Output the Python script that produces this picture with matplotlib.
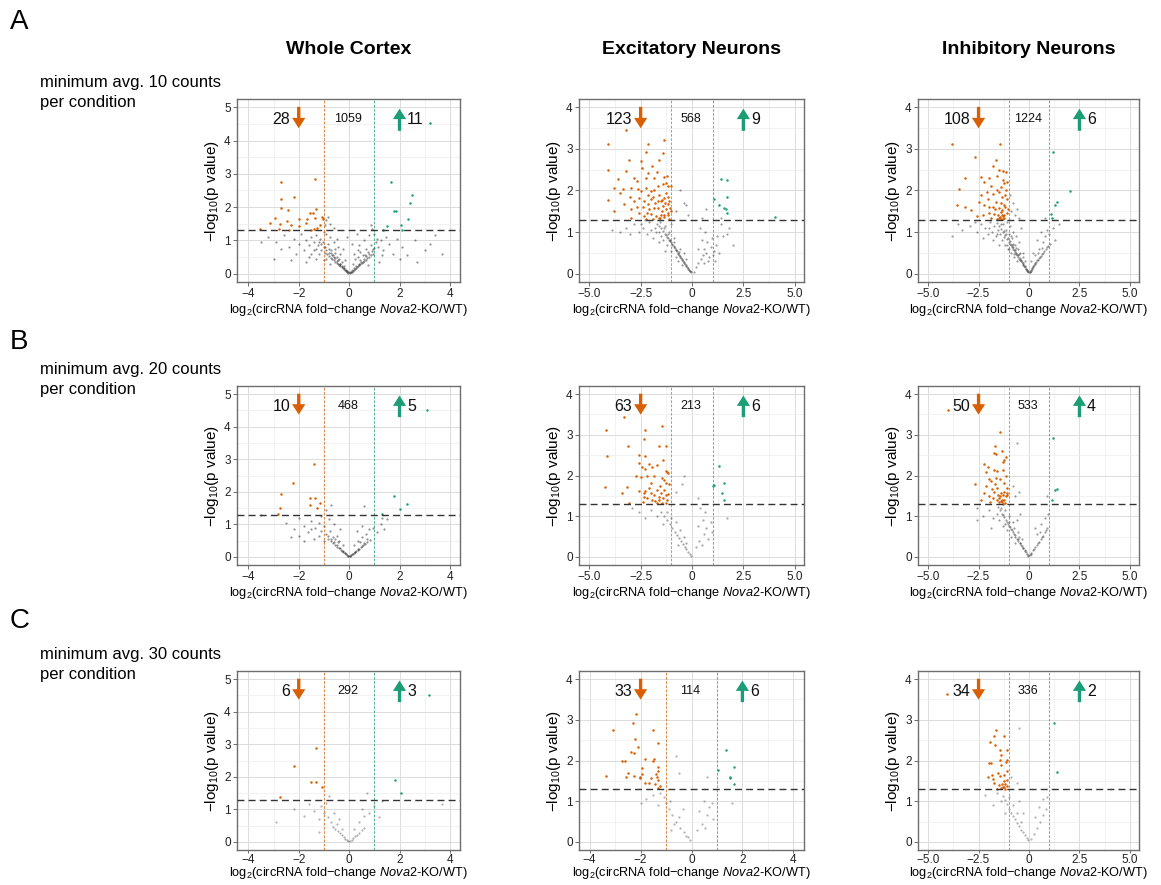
import matplotlib
matplotlib.use("Agg")
import matplotlib.pyplot as plt

plt.rcParams['font.family'] = ['Liberation Sans', 'DejaVu Sans']
plt.rcParams['mathtext.fontset'] = 'custom'
plt.rcParams['mathtext.rm'] = 'Liberation Sans'
plt.rcParams['mathtext.it'] = 'Liberation Sans:italic'

ORANGE = '#D95F02'
GREEN = '#1B9E77'

col_titles = ['Whole Cortex', 'Excitatory Neurons', 'Inhibitory Neurons']
row_letters = ['A', 'B', 'C']
row_texts = ['minimum avg. 10 counts', 'minimum avg. 20 counts', 'minimum avg. 30 counts']

# counts: (down, unchanged, up) per panel, row-major
counts = [(28, 1059, 11), (123, 568, 9), (108, 1224, 6),
          (10, 468, 5), (63, 213, 6), (50, 533, 4),
          (6, 292, 3), (33, 114, 6), (34, 336, 2)]

# ---------------- Row A: min 10 counts ----------------
wc10_down = [(-2.70,2.76),(-1.34,2.85),(-2.71,2.24),(-2.20,2.29),(-2.72,1.98),(-2.43,1.91),(-1.30,1.93),
             (-1.57,1.81),(-1.43,1.81),(-2.96,1.68),(-1.99,1.63),(-1.67,1.65),(-1.37,1.67),(-1.09,1.69),
             (-1.04,1.65),(-3.16,1.52),(-2.76,1.50),(-2.47,1.58),(-3.53,1.34),(-2.80,1.34),(-2.40,1.32),
             (-1.53,1.30),(-1.41,1.34),(-1.28,1.38),(-1.70,1.52),(-2.30,1.47),(-1.97,1.44),(-1.17,1.47)]
wc10_up = [(1.67,2.76),(2.51,2.36),(2.42,2.11),(1.78,1.89),(1.85,1.89),(2.35,1.65),(1.49,1.44),
           (2.06,1.47),(1.33,1.32),(2.11,1.32),(3.19,4.52)]
wc10_ns = [(-0.03,0.02),(0.03,0.02),(-0.07,0.05),(0.07,0.04),(-0.1,0.07),(0.1,0.06),(-0.14,0.09),(0.14,0.09),
           (-0.18,0.12),(0.18,0.11),(-0.22,0.14),(0.22,0.14),(-0.26,0.17),(0.26,0.16),(-0.3,0.2),(0.3,0.19),
           (-0.35,0.23),(0.35,0.22),(-0.4,0.26),(0.4,0.25),(-0.45,0.3),(0.45,0.28),(-0.5,0.33),(0.5,0.32),
           (-0.55,0.36),(0.55,0.35),(-0.6,0.4),(0.6,0.38),(-0.66,0.44),(0.66,0.42),(-0.72,0.48),(0.72,0.46),
           (-0.8,0.53),(0.8,0.51),(-0.88,0.58),(0.88,0.56),(-0.95,0.63),(0.95,0.6),
           (-0.2,0.22),(-0.3,0.35),(-0.4,0.45),(-0.5,0.5),(-0.55,0.62),(-0.65,0.55),(-0.7,0.7),(-0.8,0.75),
           (-0.85,0.9),(-0.95,0.8),(-1.05,0.95),(-1.1,0.7),(-1.15,1.05),(-1.25,0.85),(-1.3,1.15),(-1.4,0.95),
           (-1.5,1.1),(-1.6,0.85),(-1.7,1.0),(-1.8,0.7),(-1.9,1.2),(-2.0,0.9),(-2.2,1.05),(-2.4,0.8),
           (-2.6,1.15),(-2.9,0.95),(-3.2,1.1),(-3.5,0.95),(-0.15,0.4),(-0.35,0.6),(-0.45,0.8),(-0.6,0.95),
           (-0.75,1.1),(-0.9,1.2),(-0.25,0.75),(-0.5,1.05),(-1.0,1.25),(-1.2,0.6),(-1.4,0.7),(-1.6,0.5),
           (-2.1,0.6),(0.15,0.3),(0.25,0.45),(0.35,0.5),(0.45,0.65),(0.55,0.55),(0.65,0.75),(0.75,0.65),
           (0.85,0.85),(0.95,0.75),(1.05,0.95),(1.15,0.8),(1.25,1.0),(1.35,0.7),(1.45,1.1),(1.6,0.9),
           (1.75,0.6),(1.9,1.05),(2.1,0.8),(2.3,0.55),(2.6,1.0),(3.0,0.7),(3.4,1.15),(3.7,0.6),(0.2,0.6),
           (0.4,0.85),(0.6,1.0),(0.8,1.15),(1.0,1.2),(0.1,0.9),(-0.1,1.1),(0.3,1.2),(1.2,0.35),(-1.0,0.4),
           (-1.3,0.45),(-0.75,0.3),(0.75,0.25),(-0.95,1.45),(-0.85,1.7),(-0.9,1.6),(-0.6,1.38),(0.85,1.45),
           (0.9,1.35),(-0.75,1.5)]
wc10_ns_core = [(-0.05,0.05),(0.05,0.05),(-0.12,0.1),(0.12,0.1),(-0.2,0.16),(0.2,0.16),(-0.28,0.24),
                (0.28,0.22),(-0.38,0.3),(0.38,0.3),(-0.48,0.38),(0.48,0.36),(-0.58,0.46),(0.58,0.44),
                (-0.68,0.55),(0.68,0.52),(-0.78,0.62),(0.78,0.6),(-0.9,0.7),(0.9,0.68),(-1.0,0.8),(1.0,0.78),
                (-1.1,0.88),(-1.2,0.95),(-0.35,0.3),(-0.45,0.4),(0.42,0.4),(-0.62,0.5),(-0.7,0.62),(0.62,0.55),
                (-0.9,0.45),(-1.3,0.75),(-1.5,0.6),(1.3,0.55),(1.1,1.05),(-0.55,0.75),(0.35,0.7),(-1.7,0.35),
                (-2.3,0.4),(2.0,0.45),(-2.7,0.75),(2.7,0.35),(-3.0,0.45),(3.2,0.9)]

ex10_down = [(-3.21,3.45),(-4.11,3.13),(-2.15,3.13),(-1.34,3.22),(-2.24,2.92),(-3.05,2.73),(-1.62,2.73),
             (-4.07,2.50),(-2.45,2.54),(-3.21,2.47),(-2.15,2.43),(-3.59,2.27),(-2.67,2.23),(-2.24,2.31),
             (-1.86,2.30),(-1.37,2.33),(-3.37,2.03),(-2.97,2.07),(-2.64,2.03),(-2.48,1.99),(-2.24,2.07),
             (-1.99,1.99),(-1.67,2.11),(-1.42,2.15),(-1.26,2.17),(-1.18,2.12),(-1.02,2.11),(-4.07,1.77),
             (-3.78,1.51),(-3.33,1.67),(-2.97,1.55),(-2.80,1.75),(-2.56,1.83),(-2.32,1.75),(-2.15,1.67),
             (-2.07,1.55),(-1.91,1.85),(-1.80,1.69),(-1.67,1.59),(-1.50,1.75),(-1.42,1.63),(-1.34,1.83),
             (-1.26,1.55),(-1.18,1.67),(-1.15,1.47),(-1.10,1.75),(-1.05,1.59),(-2.97,1.35),(-2.32,1.39),
             (-1.99,1.43),(-1.75,1.39),(-1.50,1.41),(-1.34,1.37),(-1.18,1.41),(-2.24,1.31),(-1.91,1.31),
             (-1.59,1.33),(-2.6,1.45),(-2.4,1.6),(-2.0,1.8),(-1.85,2.0),(-1.6,1.9),(-1.45,1.5),(-1.25,1.95),
             (-1.1,1.32),(-1.55,1.35),(-2.15,1.9),(-2.8,2.3),(-3.0,1.85),(-3.5,1.95),(-1.7,2.45),(-1.2,2.35),
             (-2.5,2.7),(-1.4,2.9),(-3.8,2.05),(-1.95,2.6),(-1.3,1.7),(-1.0,1.5),(-1.65,1.75),(-2.7,1.6),
             (-2.2,1.45),(-1.85,1.58),(-1.45,1.78),(-1.15,1.85),(-1.35,1.42)]
ex10_up = [(1.39,2.27),(1.70,2.26),(1.69,1.85),(1.07,1.79),(1.32,1.65),(1.56,1.59),(1.64,1.55),
           (1.70,1.45),(4.02,1.37)]
ex10_ns = [(-0.05,0.03),(-0.1,0.06),(-0.15,0.1),(-0.2,0.14),(-0.25,0.17),(-0.3,0.2),(-0.35,0.24),(-0.4,0.28),
           (-0.45,0.31),(-0.5,0.35),(-0.55,0.38),(-0.6,0.42),(-0.65,0.46),(-0.7,0.5),(-0.75,0.55),(-0.8,0.58),
           (-0.85,0.62),(-0.9,0.66),(-0.95,0.7),(-1.0,0.75),(-1.05,0.78),(-1.1,0.82),(-1.2,0.88),(-1.3,0.95),
           (-1.4,1.02),(-1.5,1.1),(-1.6,1.15),(-1.7,1.2),(-0.3,0.35),(-0.5,0.2),(-0.6,0.6),(-0.8,0.4),
           (-0.9,0.85),(-1.0,0.55),(-1.1,1.0),(-1.2,0.7),(-1.3,1.15),(-1.4,0.8),(-1.5,0.9),(-1.6,1.0),
           (-1.8,1.1),(-1.9,0.85),(-2.0,1.05),(-2.1,1.25),(-2.2,0.95),(-2.4,1.1),(-2.6,1.0),(-2.8,1.2),
           (-3.0,0.95),(-3.2,1.1),(-3.5,1.0),(-3.9,1.05),(-1.3,0.55),(-0.7,0.3),(-0.4,0.5),(-2.3,1.3),
           (-1.0,1.2),(0.1,0.05),(0.2,0.15),(0.3,0.25),(0.45,0.35),(0.55,0.45),(0.6,0.6),(0.7,0.5),
           (0.75,0.75),(0.85,0.4),(0.9,0.65),(0.95,0.85),(1.05,0.55),(1.1,0.3),(1.15,0.7),(1.2,0.9),
           (1.3,0.5),(0.5,0.8),(0.3,0.6),(0.65,1.0),(0.4,1.1),(1.4,1.2),(1.5,0.9),(1.7,0.95),(2.0,0.7),
           (1.8,1.1),(-0.6,2.0),(-0.4,1.7),(-0.3,1.65),(-0.8,1.5),(-0.2,1.4),(0.5,1.35),(0.7,1.55),(1.4,1.35)]
ex10_ns_core = [(-0.08,0.06),(-0.18,0.12),(-0.28,0.18),(-0.38,0.26),(-0.48,0.33),(-0.58,0.4),(-0.68,0.48),
                (-0.78,0.57),(-0.88,0.64),(-0.98,0.72),(-1.08,0.8),(-1.18,0.86),(-1.28,0.92),(-0.62,0.53),
                (-0.9,0.76),(-1.15,0.95),(-1.35,1.1),(-1.55,1.25),(-1.75,1.0),(-2.5,1.2),(-1.6,0.75),
                (0.8,0.3),(1.0,0.45),(0.6,0.25)]

in10_down = [(-3.80,3.11),(-1.44,3.11),(-2.69,2.81),(-1.64,2.73),(-1.80,2.59),(-1.15,2.45),(-1.28,2.46),
             (-2.36,2.33),(-2.23,2.21),(-3.15,2.30),(-1.59,2.35),(-1.31,2.25),(-1.89,2.11),(-1.39,2.08),
             (-1.23,2.17),(-2.10,1.96),(-1.77,1.92),(-1.48,1.96),(-1.15,2.00),(-3.48,2.03),(-3.56,1.66),
             (-3.15,1.60),(-2.87,1.52),(-2.46,1.72),(-2.21,1.64),(-2.05,1.80),(-1.80,1.60),(-1.64,1.72),
             (-1.51,1.58),(-1.34,1.52),(-1.23,1.64),(-1.11,1.80),(-1.97,1.46),(-1.72,1.44),(-1.39,1.48),
             (-1.31,1.38),(-1.48,1.33),(-1.56,1.40),(-1.39,1.32),(-1.31,1.31),(-1.23,1.33),(-1.45,1.36),
             (-1.35,1.42),(-1.25,1.40),(-1.6,1.32),(-1.9,1.35),(-2.3,1.42),(-2.6,1.38),(-1.1,1.45),
             (-1.05,1.55),(-1.7,1.55),(-2.0,1.6),(-1.4,1.7),(-1.2,1.9),(-1.6,2.0),(-2.4,1.9),(-1.1,2.2),
             (-1.5,2.5),(-2.0,2.3),(-1.35,1.85),(-1.2,1.6)]
in10_up = [(1.2,2.93),(2.05,1.98),(1.39,1.72),(1.31,1.64),(1.11,1.44),(1.15,1.33)]
in10_ns = [(-0.04,0.03),(-0.08,0.06),(-0.12,0.09),(-0.16,0.12),(-0.2,0.15),(-0.24,0.18),(-0.28,0.21),
           (-0.32,0.24),(-0.36,0.27),(-0.4,0.3),(-0.45,0.33),(-0.5,0.36),(-0.55,0.4),(-0.6,0.44),(-0.65,0.48),
           (-0.7,0.52),(-0.75,0.56),(-0.8,0.6),(-0.85,0.64),(-0.9,0.68),(-0.95,0.72),(-1.0,0.76),(-1.1,0.84),
           (-1.2,0.92),(-1.3,1.0),(-1.4,1.08),(-1.5,1.15),(-1.6,1.22),(-0.3,0.4),(-0.45,0.5),(-0.55,0.6),
           (-0.6,0.3),(-0.7,0.7),(-0.75,0.4),(-0.85,0.85),(-0.9,0.5),(-1.0,0.95),(-1.05,0.6),(-1.15,1.05),
           (-1.2,0.7),(-1.3,1.2),(-1.35,0.8),(-1.45,0.95),(-1.55,1.05),(-1.65,0.9),(-1.75,1.15),(-1.85,1.0),
           (-1.95,1.25),(-2.05,0.95),(-2.2,1.1),(-2.4,1.2),(-2.6,1.0),(-2.9,1.15),(-3.3,1.05),(-1.1,1.25),
           (-0.8,1.0),(-0.65,0.9),(-0.5,0.75),(-0.4,1.1),(-0.95,1.15),(-1.5,0.7),(-1.8,0.8),(-2.3,0.85),
           (0.04,0.03),(0.08,0.06),(0.12,0.1),(0.16,0.13),(0.2,0.16),(0.25,0.2),(0.3,0.24),(0.36,0.28),
           (0.42,0.32),(0.5,0.37),(0.58,0.42),(0.66,0.48),(0.75,0.54),(0.85,0.6),(0.95,0.66),(1.05,0.72),
           (0.3,0.45),(0.5,0.6),(0.7,0.75),(0.8,0.9),(0.6,1.0),(0.9,1.05),(1.0,0.95),(1.2,1.1),(0.4,0.8),
           (0.2,0.5),(0.1,0.3),(1.3,0.8),(1.5,1.2),(-0.9,1.5),(-0.8,1.7),(-0.95,1.9),(-0.7,1.4),(-0.5,1.35),
           (-0.6,1.55),(0.8,1.35),(-3.5,1.2),(-3.8,0.9)]
in10_ns_core = [(-0.06,0.06),(-0.14,0.12),(-0.22,0.19),(-0.3,0.26),(-0.38,0.32),(-0.46,0.38),(-0.54,0.44),
                (-0.62,0.5),(-0.7,0.58),(-0.78,0.64),(-0.86,0.7),(-0.94,0.78),(-1.02,0.85),(-1.12,0.95),
                (-1.22,1.02),(-0.5,0.48),(-0.65,0.62),(-0.8,0.72),(-0.9,0.9),(-1.1,0.7),(-1.25,0.88),
                (-1.4,1.2),(-0.3,0.5),(0.06,0.05),(0.14,0.11),(0.22,0.18),(0.32,0.26),(0.45,0.34),(0.55,0.4),
                (0.7,0.5),(0.9,0.63),(0.45,0.5),(0.65,0.62),(-0.2,0.3),(-1.6,0.95),(-2.0,1.1),(-2.7,1.25),
                (-1.0,0.6),(-0.75,0.48)]

# ---------------- Row B: min 20 counts ----------------
wc20_down = [(-1.39,2.84),(-2.23,2.28),(-2.70,1.92),(-1.56,1.82),(-1.35,1.82),(-2.74,1.51),(-1.56,1.58),
             (-1.17,1.65),(-1.26,1.50),(-2.83,1.33)]
wc20_up = [(1.79,1.87),(2.29,1.63),(2.0,1.46),(1.30,1.33),(3.11,4.51)]
wc20_ns = [(-0.03,0.02),(0.03,0.02),(-0.08,0.05),(0.08,0.05),(-0.13,0.09),(0.13,0.08),(-0.18,0.12),(0.18,0.11),
           (-0.23,0.15),(0.23,0.14),(-0.28,0.19),(0.28,0.17),(-0.34,0.22),(0.34,0.21),(-0.4,0.27),(0.4,0.25),
           (-0.47,0.31),(0.47,0.3),(-0.55,0.37),(0.55,0.35),(-0.63,0.42),(0.63,0.4),(-0.72,0.48),(0.72,0.46),
           (-0.82,0.55),(0.82,0.52),(-0.25,0.35),(-0.4,0.5),(-0.5,0.65),(-0.65,0.6),(-0.75,0.8),(-0.9,0.7),
           (-1.0,0.95),(-1.1,0.8),(-1.2,1.05),(-1.35,0.9),(-1.5,1.1),(-1.65,0.75),(-1.8,0.95),(-2.0,0.65),
           (-2.2,0.85),(-2.3,0.6),(-1.4,0.55),(-1.0,0.5),(-0.6,1.0),(-0.8,1.15),(-0.35,0.85),(-1.1,1.25),
           (-2.0,1.2),(0.2,0.35),(0.35,0.5),(0.5,0.62),(0.65,0.7),(0.8,0.85),(0.95,0.9),(1.1,0.75),
           (1.25,1.0),(1.4,0.85),(0.5,0.95),(0.3,0.8),(1.3,1.2),(1.5,1.15),(-0.9,1.45),(-0.7,1.6),(0.6,1.55),
           (-3.5,1.3),(-2.5,1.05),(-1.8,0.5)]
wc20_ns_core = [(-0.05,0.04),(0.05,0.04),(-0.15,0.11),(0.15,0.1),(-0.25,0.18),(0.25,0.16),(-0.37,0.26),
                (0.37,0.24),(-0.5,0.36),(0.5,0.34),(-0.6,0.45),(0.6,0.42),(-0.7,0.55),(-0.85,0.65),(0.7,0.55),
                (-0.45,0.45),(-0.55,0.55),(0.45,0.45),(-1.2,0.65),(-1.5,0.85)]

ex20_down = [(-3.33,3.44),(-4.18,3.11),(-2.27,3.11),(-1.45,3.21),(-2.35,2.90),(-3.12,2.72),(-1.62,2.72),
             (-1.29,2.72),(-4.15,2.49),(-2.60,2.51),(-2.27,2.49),(-1.41,2.39),(-2.6,2.3),(-2.43,2.22),
             (-2.27,2.15),(-2.1,2.29),(-1.95,2.22),(-1.7,2.27),(-1.29,2.1),(-1.2,2.08),(-1.15,2.06),
             (-2.75,1.98),(-2.5,1.96),(-2.2,1.98),(-1.85,1.98),(-1.45,1.94),(-1.37,1.88),(-1.29,1.81),
             (-4.23,1.72),(-3.41,1.57),(-3.14,1.72),(-3.09,1.33),(-2.35,1.57),(-2.27,1.61),(-2.1,1.69),
             (-2.0,1.81),(-2.0,1.57),(-1.86,1.53),(-1.7,1.65),(-1.62,1.48),(-1.54,1.73),(-1.5,1.57),
             (-1.41,1.45),(-1.37,1.65),(-1.29,1.53),(-1.2,1.39),(-1.62,1.39),(-1.78,1.37),(-1.94,1.40),
             (-2.2,1.44),(-2.33,1.47),(-1.45,1.32),(-1.29,1.32),(-1.7,1.32),(-2.4,1.35),(-2.6,1.62),
             (-1.15,1.55),(-1.1,1.8)]
ex20_up = [(1.29,2.24),(1.0,1.73),(1.54,1.82),(1.44,1.57),(1.54,1.41),(1.05,1.76)]
ex20_ns = [(-0.05,0.03),(-0.12,0.07),(-0.2,0.13),(-0.28,0.19),(-0.36,0.25),(-0.45,0.31),(-0.55,0.38),
           (-0.65,0.46),(-0.75,0.54),(-0.85,0.62),(-0.95,0.7),(-1.05,0.8),(-1.2,0.9),(-1.35,1.0),(-1.5,1.1),
           (-0.4,0.5),(-0.6,0.65),(-0.8,0.85),(-1.0,0.95),(-1.2,1.1),(-1.4,0.8),(-1.7,1.0),(-2.0,1.15),
           (-2.3,0.95),(-2.6,1.1),(-2.9,1.2),(-0.3,0.35),(-0.7,0.3),(0.2,0.25),(0.35,0.4),(0.5,0.3),
           (0.6,0.55),(0.7,0.7),(0.8,0.45),(0.9,0.85),(0.95,0.6),(0.55,0.9),(0.3,0.75),(1.7,0.95),(0.4,1.2),
           (-0.5,1.8),(-0.4,2.0),(0.3,1.45),(-0.8,1.6),(0.65,1.1)]

in20_down = [(-4.02,3.62),(-1.44,3.08),(-1.67,2.72),(-1.75,2.55),(-1.64,2.54),(-1.15,2.45),(-1.23,2.39),
             (-1.28,2.32),(-2.21,2.29),(-2.02,2.22),(-2.13,2.08),(-1.75,2.13),(-1.61,2.10),(-1.28,2.14),
             (-1.64,1.94),(-1.44,1.91),(-1.97,1.91),(-1.89,1.86),(-2.66,1.80),(-2.21,1.57),(-1.72,1.59),
             (-1.56,1.53),(-1.39,1.57),(-1.31,1.53),(-1.15,1.49),(-1.48,1.45),(-1.34,1.41),(-1.23,1.39),
             (-1.11,1.51),(-1.77,1.45),(-1.61,1.39),(-1.34,1.34),(-1.31,1.31),(-2.13,1.73),(-1.85,1.67),
             (-1.23,1.82),(-1.07,1.57),(-1.5,1.35),(-1.4,1.37),(-1.2,1.33),(-1.45,1.5),(-1.1,1.7),
             (-1.6,1.7),(-2.0,1.5),(-2.4,1.4),(-1.95,1.35),(-1.15,2.0),(-1.35,2.6),(-1.25,1.6),(-1.7,1.8)]
in20_up = [(1.18,2.92),(1.31,1.64),(1.39,1.67),(1.15,1.39)]
in20_ns = [(-0.04,0.03),(-0.1,0.07),(-0.16,0.12),(-0.22,0.16),(-0.28,0.21),(-0.34,0.26),(-0.4,0.3),
           (-0.47,0.35),(-0.54,0.4),(-0.6,0.45),(-0.67,0.5),(-0.74,0.56),(-0.8,0.62),(-0.88,0.68),(-0.95,0.74),
           (-1.05,0.82),(-1.15,0.9),(-1.25,0.98),(-1.35,1.06),(-1.45,1.14),(-1.55,1.22),(-0.35,0.45),
           (-0.55,0.6),(-0.7,0.35),(-0.8,0.85),(-0.9,0.5),(-1.0,1.0),(-1.1,0.65),(-1.2,1.15),(-1.3,0.75),
           (-1.5,0.9),(-1.6,1.05),(-1.8,0.95),(-2.0,1.15),(-2.3,1.0),(-2.6,1.2),(-0.6,0.9),(-0.45,1.05),
           (-1.9,0.7),(-2.6,0.9),(0.05,0.04),(0.12,0.1),(0.2,0.16),(0.3,0.24),(0.4,0.3),(0.5,0.37),
           (0.6,0.44),(0.7,0.52),(0.8,0.6),(0.9,0.7),(0.4,0.55),(0.6,0.8),(0.8,0.95),(0.95,1.05),(0.3,0.7),
           (-0.8,1.75),(-0.7,1.5),(-0.5,1.6),(-0.6,2.8),(0.9,1.5)]
in20_ns_core = [(-0.07,0.05),(-0.19,0.14),(-0.31,0.23),(-0.43,0.33),(-0.57,0.43),(-0.7,0.53),(-0.84,0.65),
                (-0.98,0.77),(-1.1,0.86),(-1.3,1.02),(-0.5,0.5),(-0.75,0.7),(-1.0,0.85),(-1.2,0.8),
                (0.08,0.07),(0.25,0.2),(0.45,0.33),(0.65,0.48),(0.85,0.65),(0.55,0.6),(-1.4,1.2)]

# ---------------- Row C: min 30 counts ----------------
wc30_down = [(-1.33,2.87),(-2.17,2.33),(-1.52,1.85),(-1.33,1.83),(-1.07,1.70),(-2.76,1.37)]
wc30_up = [(1.83,1.9),(2.05,1.5),(3.16,4.52)]
wc30_ns = [(-0.03,0.02),(0.03,0.03),(-0.1,0.06),(0.1,0.07),(-0.16,0.1),(0.16,0.12),(-0.22,0.15),(0.22,0.17),
           (-0.3,0.2),(0.3,0.22),(-0.38,0.26),(0.4,0.28),(-0.45,0.32),(-0.55,0.38),(0.5,0.35),(-0.65,0.45),
           (0.6,0.42),(-0.3,0.4),(-0.5,0.55),(-0.7,0.6),(-0.85,0.75),(-1.0,0.9),(-1.1,1.1),(-1.2,0.7),
           (-1.4,0.95),(-1.6,1.15),(-0.6,0.9),(-0.9,1.2),(-0.4,0.7),(0.2,0.4),(0.4,0.6),(0.6,0.8),(0.8,0.9),
           (1.0,1.1),(1.2,0.75),(1.3,1.25),(0.5,1.0),(-1.8,0.8),(-2.2,1.0),(-2.9,0.6),(3.7,1.15),(0.7,1.5),
           (-0.8,1.4),(-1.2,0.3)]

ex30_down = [(-2.18,3.15),(-2.29,2.92),(-3.08,2.74),(-1.53,2.74),(-2.21,2.52),(-1.32,2.42),(-2.09,2.32),
             (-2.36,2.2),(-2.26,2.18),(-2.75,2.0),(-2.62,1.99),(-1.83,2.03),(-1.47,2.03),(-1.53,2.0),
             (-1.96,1.81),(-1.30,1.83),(-1.33,1.75),(-3.34,1.61),(-2.58,1.59),(-2.26,1.62),(-2.03,1.60),
             (-1.93,1.68),(-1.39,1.68),(-1.34,1.59),(-1.30,1.53),(-1.83,1.45),(-1.66,1.44),(-1.43,1.42),
             (-1.24,1.38),(-1.30,1.32),(-2.03,1.56),(-1.60,1.56),(-2.5,1.7)]
ex30_up = [(1.34,2.26),(1.04,1.77),(1.66,1.83),(1.53,1.59),(1.66,1.43),(1.50,1.56)]
ex30_ns = [(-0.05,0.05),(-0.15,0.12),(-0.3,0.25),(-0.45,0.35),(-0.6,0.5),(-0.75,0.65),(-0.9,0.8),(-1.0,0.95),
           (-0.5,0.6),(-0.7,0.45),(-0.85,1.0),(-1.1,1.1),(-1.3,0.9),(-1.5,1.15),(-1.8,1.05),(-2.0,0.95),
           (-1.25,1.2),(-0.35,0.8),(0.2,0.3),(0.4,0.45),(0.55,0.35),(0.6,0.65),(0.7,0.85),(0.85,0.55),
           (0.3,0.75),(0.5,1.0),(0.8,0.95),(1.6,0.95),(-0.6,2.1),(-0.5,1.7),(0.6,1.6),(-0.2,0.15),(-0.8,0.3)]

in30_down = [(-4.06,3.64),(-1.62,2.74),(-1.91,2.45),(-1.72,2.59),(-1.67,2.39),(-1.26,2.60),(-1.46,2.25),
             (-1.37,2.13),(-1.10,2.25),(-1.07,2.01),(-1.13,1.96),(-1.99,1.93),(-1.88,1.93),(-1.46,2.01),
             (-1.37,1.89),(-1.83,1.65),(-1.55,1.69),(-1.42,1.61),(-1.26,1.65),(-1.23,1.49),(-1.18,1.42),
             (-1.34,1.42),(-1.50,1.39),(-1.26,1.34),(-1.10,1.37),(-1.37,1.33),(-1.18,1.31),(-1.07,1.73),
             (-1.10,1.53),(-1.75,1.45),(-1.59,1.31),(-1.29,1.36),(-1.8,1.55),(-2.05,1.6)]
in30_up = [(1.23,2.92),(1.39,1.71)]
in30_ns = [(-0.05,0.04),(-0.12,0.1),(-0.2,0.16),(-0.3,0.24),(-0.4,0.3),(-0.5,0.38),(-0.6,0.46),(-0.7,0.55),
           (-0.8,0.64),(-0.9,0.72),(-1.0,0.82),(-1.1,0.92),(-1.2,1.02),(-1.3,1.12),(-0.4,0.5),(-0.6,0.7),
           (-0.8,0.9),(-1.0,1.1),(-1.2,0.7),(-1.4,1.0),(-1.6,1.2),(-1.8,0.9),(-0.5,1.0),(-0.3,0.7),
           (-2.2,1.15),(0.1,0.08),(0.25,0.2),(0.4,0.35),(0.55,0.5),(0.7,0.65),(0.85,0.8),(0.5,0.85),
           (0.3,0.6),(0.7,1.05),(0.9,1.1),(-0.9,1.6),(-0.6,1.45),(-0.5,2.8)]

panel_data = [(wc10_ns + wc10_ns_core, wc10_down, wc10_up),
              (ex10_ns + ex10_ns_core, ex10_down, ex10_up),
              (in10_ns + in10_ns_core, in10_down, in10_up),
              (wc20_ns + wc20_ns_core, wc20_down, wc20_up),
              (ex20_ns, ex20_down, ex20_up),
              (in20_ns + in20_ns_core, in20_down, in20_up),
              (wc30_ns, wc30_down, wc30_up),
              (ex30_ns, ex30_down, ex30_up),
              (in30_ns, in30_down, in30_up)]
# gray-point opacity per panel (denser sets look darker in the reference)
ns_alpha = [0.5, 0.45, 0.45, 0.5, 0.4, 0.45, 0.35, 0.35, 0.35]

# axis scale types: 'a' -> -4..4 / 0..5 ; 'b' -> -5..5 / 0..4 ; 'c' -> -4..4 / 0..4
scale_types = ['a', 'b', 'b', 'a', 'b', 'b', 'a', 'c', 'b']

W, H = 1161, 885
fig = plt.figure(figsize=(W / 100, H / 100), dpi=100)

col_px = [(237, 460), (579, 804), (918, 1139)]
row_px = [(99, 282), (386, 565), (671, 850)]


def px_axes(l, r, t, b):
    return fig.add_axes([l / W, 1 - b / H, (r - l) / W, (b - t) / H])


def draw(ax, ns, down, up, cnt, st, alpha, tight):
    if st == 'a':
        xlim, ylim = (-4.45, 4.4), (-0.25, 5.25)
        xt, xtl, xm = [-4, -2, 0, 2, 4], ['\u22124', '\u22122', '0', '2', '4'], [-3, -1, 1, 3]
        yt = [0, 1, 2, 3, 4, 5]
        arrow_x = 2.0
    elif st == 'b':
        xlim, ylim = (-5.5, 5.45), (-0.2, 4.2)
        xt, xtl = [-5, -2.5, 0, 2.5, 5], ['\u22125.0', '\u22122.5', '0', '2.5', '5.0']
        xm = [-3.75, -1.25, 1.25, 3.75]
        yt = [0, 1, 2, 3, 4]
        arrow_x = 2.5
    else:
        xlim, ylim = (-4.42, 4.42), (-0.2, 4.2)
        xt, xtl, xm = [-4, -2, 0, 2, 4], ['\u22124', '\u22122', '0', '2', '4'], [-3, -1, 1, 3]
        yt = [0, 1, 2, 3, 4]
        arrow_x = 2.0
    ym = [v + 0.5 for v in yt[:-1]]

    ax.set_xlim(*xlim)
    ax.set_ylim(*ylim)
    ax.set_xticks(xt)
    ax.set_xticklabels(xtl)
    ax.set_xticks(xm, minor=True)
    ax.set_yticks(yt)
    ax.set_yticks(ym, minor=True)
    ax.set_axisbelow(True)
    ax.grid(which='major', color='#DCDCDC', lw=0.7)
    ax.grid(which='minor', color='#EDEDED', lw=0.5)
    ax.tick_params(which='major', length=3, width=0.6, color='#555555', labelsize=8.5,
                   labelcolor='#222222', pad=1.5)
    if tight:
        ax.tick_params(axis='x', which='major', length=2.5, pad=0.5)
    ax.tick_params(which='minor', length=0)
    for s in ax.spines.values():
        s.set_color('#6E6E6E')
        s.set_linewidth(1.0)

    gx = [p[0] for p in ns]
    gy = [p[1] for p in ns]
    ax.scatter(gx, gy, s=2.5, c='#222222', alpha=alpha, linewidths=0, zorder=2)
    dx = [p[0] for p in down]
    dy = [p[1] for p in down]
    ax.scatter(dx, dy, s=3.2, c=ORANGE, linewidths=0, zorder=3)
    ux = [p[0] for p in up]
    uy = [p[1] for p in up]
    ax.scatter(ux, uy, s=3.2, c=GREEN, linewidths=0, zorder=3)

    ax.axvline(-1, color=ORANGE, lw=0.75, alpha=0.7, dashes=(2.5, 1.5), zorder=4)
    ax.axvline(1, color=GREEN, lw=0.75, alpha=0.7, dashes=(2.5, 1.5), zorder=4)
    ax.axhline(1.301, color='#333333', lw=1.0, dashes=(5, 3), zorder=4)

    tr = ('data', 'axes fraction')
    ax.annotate('', xy=(-arrow_x, 0.84), xycoords=tr, xytext=(-arrow_x, 0.957), textcoords=tr,
                arrowprops=dict(arrowstyle='simple,head_length=0.75,head_width=0.95,tail_width=0.24',
                                mutation_scale=10, color=ORANGE, shrinkA=0, shrinkB=0, lw=0))
    ax.annotate('', xy=(arrow_x, 0.947), xycoords=tr, xytext=(arrow_x, 0.826), textcoords=tr,
                arrowprops=dict(arrowstyle='simple,head_length=0.75,head_width=0.95,tail_width=0.24',
                                mutation_scale=10, color=GREEN, shrinkA=0, shrinkB=0, lw=0))
    ax.annotate(str(cnt[0]), xy=(-arrow_x, 0.888), xycoords=tr, xytext=(-6, 0), textcoords='offset points',
                ha='right', va='center', fontsize=11.5, color='#111111')
    ax.annotate(str(cnt[2]), xy=(arrow_x, 0.888), xycoords=tr, xytext=(5.5, 0), textcoords='offset points',
                ha='left', va='center', fontsize=11.5, color='#111111')
    ax.annotate(str(cnt[1]), xy=(-0.05, 0.888), xycoords=tr, ha='center', va='center',
                fontsize=9, color='#111111')

    ax.set_ylabel('\u2212log$_{10}$(p value)', fontsize=11, labelpad=2)
    ax.set_xlabel('log$_2$(circRNA fold\u2212change $\\mathit{Nova2}$-KO/WT)', fontsize=9.2,
                  labelpad=(-0.5 if tight else 1.5))


for i in range(9):
    r, c = divmod(i, 3)
    ax = px_axes(col_px[c][0], col_px[c][1], row_px[r][0], row_px[r][1])
    ns, down, up = panel_data[i]
    draw(ax, ns, down, up, counts[i], scale_types[i], ns_alpha[i], r == 2)

# column headers
for c, title in enumerate(col_titles):
    cx = (col_px[c][0] + col_px[c][1]) / 2
    fig.text(cx / W, 1 - 50 / H, title, ha='center', va='center', fontsize=14, fontweight='bold')

# row letters and descriptions
letter_tops = [9, 329, 608]
for r in range(3):
    fig.text(10 / W, 1 - letter_tops[r] / H, row_letters[r], fontsize=20, va='top', ha='left')
    base = row_px[r][0] - 12
    fig.text(40 / W, 1 - base / H, row_texts[r], fontsize=12, va='baseline', ha='left')
    fig.text(40 / W, 1 - (base + 20) / H, 'per condition', fontsize=12, va='baseline', ha='left')

fig.savefig('out.png', dpi=100, facecolor='white')
